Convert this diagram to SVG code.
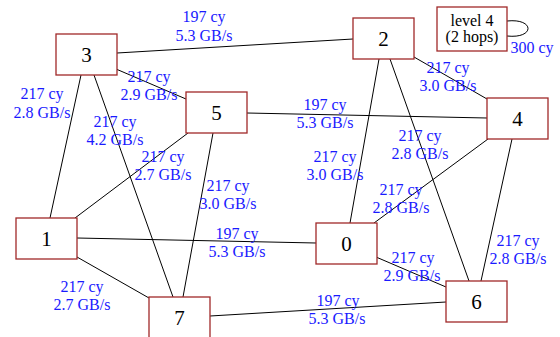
<svg xmlns="http://www.w3.org/2000/svg" width="560" height="337" viewBox="0 0 560 337">
<style>
.n rect{fill:#fff;stroke:#a02828;stroke-width:1.3}
.n text{font-family:'Liberation Serif','Times New Roman','DejaVu Serif',serif;font-size:21px;text-anchor:middle;fill:#000}
.e line,.e path{stroke:#000;stroke-width:1;fill:none}
.l{font-family:'Liberation Serif','Times New Roman','DejaVu Serif',serif;font-size:16px;text-anchor:middle;fill:#1a1aff}
</style>
<rect width="560" height="337" fill="#fff"/>
<g id="edges" class="e">
<line x1="117" y1="53" x2="353" y2="39"/>
<line x1="116" y1="69" x2="186" y2="99"/>
<line x1="81" y1="75" x2="50" y2="218"/>
<line x1="94" y1="75" x2="173" y2="297"/>
<line x1="247" y1="113" x2="487" y2="118"/>
<line x1="188" y1="133" x2="75" y2="218"/>
<line x1="213" y1="133" x2="183" y2="297"/>
<line x1="77" y1="238" x2="316" y2="243"/>
<line x1="77" y1="257" x2="149" y2="298"/>
<line x1="210" y1="316" x2="446" y2="302"/>
<line x1="414" y1="57" x2="487" y2="99"/>
<line x1="379" y1="59" x2="350" y2="223"/>
<line x1="390" y1="59" x2="469" y2="281"/>
<line x1="488" y1="139" x2="374" y2="223"/>
<line x1="512" y1="139" x2="481" y2="281"/>
<line x1="376" y1="257" x2="446" y2="287"/>
<path d="M507,21 C535,18 535,39 507,36"/>
</g>
<g id="labels">
<text class="l" x="204" y="22">197 cy</text><text class="l" x="204" y="41">5.3 GB/s</text>
<text class="l" x="42" y="99">217 cy</text><text class="l" x="42" y="118">2.8 GB/s</text>
<text class="l" x="149" y="82">217 cy</text><text class="l" x="149" y="100">2.9 GB/s</text>
<text class="l" x="115" y="127">217 cy</text><text class="l" x="115" y="145">4.2 GB/s</text>
<text class="l" x="163" y="162">217 cy</text><text class="l" x="163" y="180">2.7 GB/s</text>
<text class="l" x="228" y="191">217 cy</text><text class="l" x="228" y="209">3.0 GB/s</text>
<text class="l" x="237" y="239">197 cy</text><text class="l" x="237" y="257">5.3 GB/s</text>
<text class="l" x="82" y="292">217 cy</text><text class="l" x="82" y="310">2.7 GB/s</text>
<text class="l" x="448" y="73">217 cy</text><text class="l" x="448" y="91">3.0 GB/s</text>
<text class="l" x="325" y="110">197 cy</text><text class="l" x="325" y="128">5.3 GB/s</text>
<text class="l" x="420" y="141">217 cy</text><text class="l" x="420" y="159">2.8 GB/s</text>
<text class="l" x="335" y="162">217 cy</text><text class="l" x="335" y="180">3.0 GB/s</text>
<text class="l" x="401" y="195">217 cy</text><text class="l" x="401" y="213">2.8 GB/s</text>
<text class="l" x="413" y="263">217 cy</text><text class="l" x="412" y="281">2.9 GB/s</text>
<text class="l" x="518" y="246">217 cy</text><text class="l" x="518" y="264">2.8 GB/s</text>
<text class="l" x="338" y="306">197 cy</text><text class="l" x="337" y="324">5.3 GB/s</text>
<text class="l" x="532" y="53">300 cy</text>
</g>
<g id="node3" class="n"><rect x="56" y="34" width="61" height="41"/><text x="86.5" y="61.5">3</text></g>
<g id="node5" class="n"><rect x="186" y="92" width="61" height="41"/><text x="216.5" y="119.5">5</text></g>
<g id="node2" class="n"><rect x="353" y="18" width="61" height="41"/><text x="383.5" y="45.5">2</text></g>
<g id="node4" class="n"><rect x="487" y="98" width="61" height="41"/><text x="517.5" y="125.5">4</text></g>
<g id="node1" class="n"><rect x="16" y="218" width="61" height="41"/><text x="46.5" y="245.5">1</text></g>
<g id="node0" class="n"><rect x="316" y="223" width="61" height="41"/><text x="346.5" y="250.5">0</text></g>
<g id="node6" class="n"><rect x="446" y="281" width="61" height="41"/><text x="476.5" y="308.5">6</text></g>
<g id="node7" class="n"><rect x="149" y="297" width="61" height="41"/><text x="179.5" y="324.5">7</text></g>
<g id="level4" class="n"><rect x="437" y="7" width="70" height="44"/><text x="472" y="26" style="font-size:16px">level 4</text><text x="472" y="42" style="font-size:16px">(2 hops)</text></g>
</svg>
